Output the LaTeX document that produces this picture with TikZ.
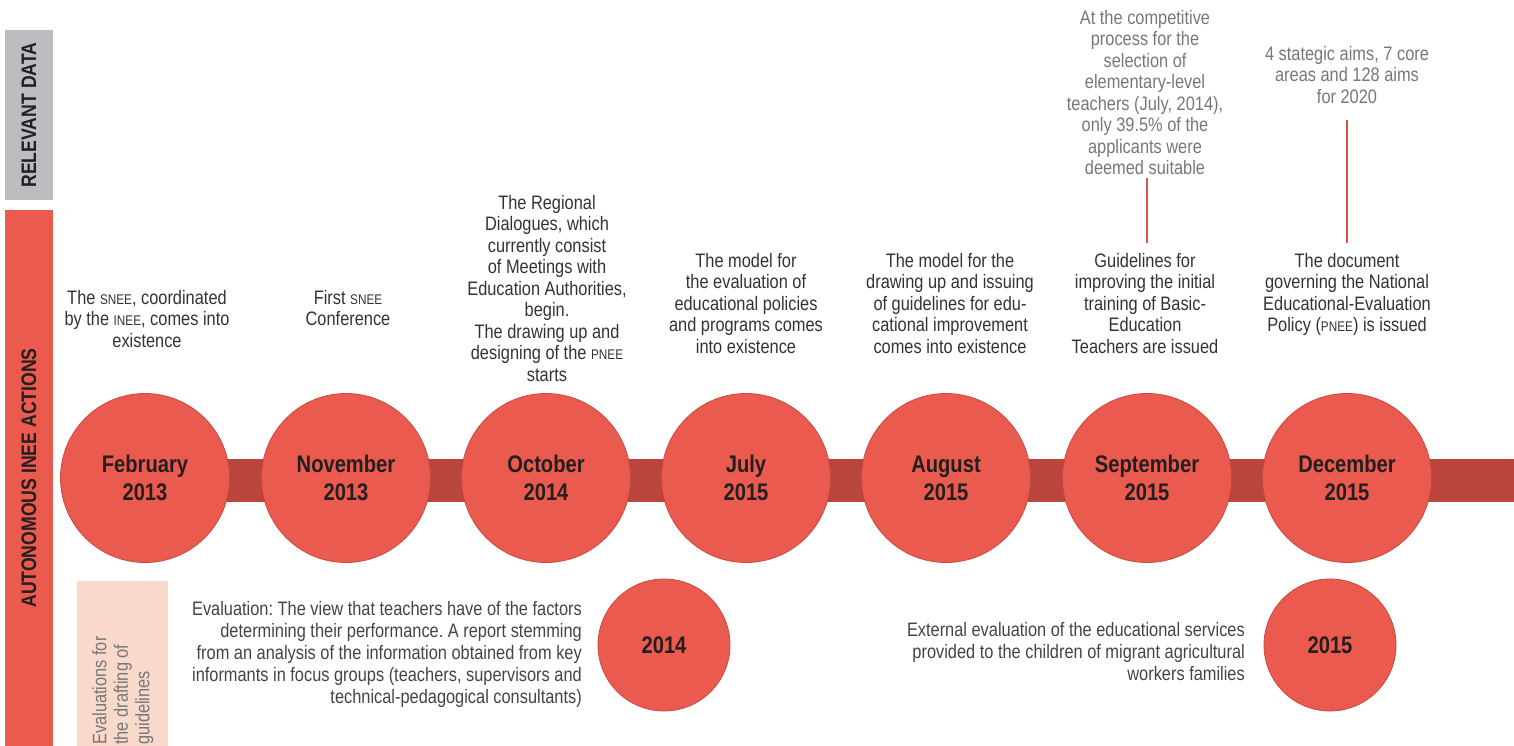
\documentclass[tikz,border=0pt]{standalone}
\usepackage{fontspec}
\setmainfont{Liberation Sans}[FakeStretch=0.84]
\usetikzlibrary{backgrounds}
\frenchspacing
\newcommand\smc[1]{{\fontsize{14}{21.5}\selectfont #1}}
\definecolor{circ}{HTML}{EB5A4E}
\definecolor{circedge}{HTML}{C9483F}
\definecolor{barc}{HTML}{B9453D}
\definecolor{greybar}{HTML}{BCBDC0}
\definecolor{pinkbox}{HTML}{F9D9CB}
\definecolor{txt}{HTML}{333333}
\definecolor{ltxt}{HTML}{777777}
\definecolor{mtxt}{HTML}{444444}
\definecolor{darktxt}{HTML}{231F20}
\definecolor{stem}{HTML}{D9544B}
\begin{document}
\begin{tikzpicture}[x=1pt,y=-1pt,
  desc/.style={align=center, anchor=north, inner sep=0pt, text=txt, font=\fontsize{19.5}{21.5}\selectfont},
  rdata/.style={desc, text=ltxt},
  evaltext/.style={align=right, anchor=north east, inner sep=0pt, text=mtxt, font=\fontsize{19.5}{22}\selectfont},
  bigcirc/.style={circle, minimum size=169pt, inner sep=0pt, fill=circ, draw=circedge, line width=0.8pt, text=darktxt, align=center, font=\bfseries\fontsize{24}{28}\selectfont},
  smallcirc/.style={bigcirc, minimum size=132pt},
  sidebar/.style={rotate=90, inner sep=0pt, text=darktxt, font=\bfseries\fontsize{21}{21}\selectfont},
  stemline/.style={draw=stem, line width=1.3pt}
]
\useasboundingbox (0,0) rectangle (1514,746);

% side bars
\node[sidebar, fill=greybar, minimum width=170pt, minimum height=48pt] (lab1) at (29,115) {RELEVANT DATA};
\node[sidebar, fill=circ, minimum width=536pt, minimum height=48pt] (lab2) at (29,478) {AUTONOMOUS INEE ACTIONS};
\fill[pinkbox] (77,581) rectangle (168,746);
\node[rotate=90, anchor=north west, align=left, inner sep=0pt, text=ltxt, font=\fontsize{19.5}{21.5}\selectfont] (lab3) at (92,745) {Evaluations for\\the drafting of\\guidelines};

% main circles
\node[bigcirc] (c1) at (145,478) {February\\2013};
\node[bigcirc] (c2) at (346,478) {November\\2013};
\node[bigcirc] (c3) at (546,478) {October\\2014};
\node[bigcirc] (c4) at (746,478) {July\\2015};
\node[bigcirc] (c5) at (946,478) {August\\2015};
\node[bigcirc] (c6) at (1147,478) {September\\2015};
\node[bigcirc] (c7) at (1347,478) {December\\2015};
\coordinate (barend) at (1514,480);
\begin{scope}[on background layer]
  \draw[barc, line width=43pt] (c1.center |- barend) -- (barend);
\end{scope}

% descriptions
\node[desc] (t1) at (147,290) {The \smc{SNEE}, coordinated\\by the \smc{INEE}, comes into\\existence};
\node[desc] (t2) at (348,290) {First \smc{SNEE}\\Conference};
\node[desc] (t3) at (547,195) {The Regional\\Dialogues, which\\currently consist\\of Meetings with\\Education Authorities,\\begin.\\The drawing up and\\designing of the \smc{PNEE}\\starts};
\node[desc] (t4) at (746,253) {The model for\\the evaluation of\\educational policies\\and programs comes\\into existence};
\node[desc] (t5) at (950,253) {The model for the\\drawing up and issuing\\of guidelines for edu-\\cational improvement\\comes into existence};
\node[desc] (t6) at (1145,253) {Guidelines for\\improving the initial\\training of Basic-\\Education\\Teachers are issued};
\node[desc] (t7) at (1347,253) {The document\\governing the National\\Educational-Evaluation\\Policy (\smc{PNEE}) is issued};

% relevant data
\node[rdata] (r6) at (1145,10) {At the competitive\\process for the\\selection of\\elementary-level\\teachers (July, 2014),\\only 39.5\% of the\\applicants were\\deemed suitable};
\node[rdata] (r7) at (1347,46) {4 stategic aims, 7 core\\areas and 128 aims\\for 2020};
\coordinate (s6a) at (1147,178);
\coordinate (s6b) at (1147,243);
\coordinate (s7a) at (1347,120);
\coordinate (s7b) at (1347,243);
\draw[stemline] (s6a) -- (s6b);
\draw[stemline] (s7a) -- (s7b);

% evaluations
\node[evaltext] (e1) at (582,601) {Evaluation: The view that teachers have of the factors\\determining their performance. A report stemming\\from an analysis of the information obtained from key\\informants in focus groups (teachers, supervisors and\\technical-pedagogical consultants)};
\node[smallcirc] (d1) at (664,645) {2014};
\node[evaltext] (e2) at (1245,622) {External evaluation of the educational services\\provided to the children of migrant agricultural\\workers families};
\node[smallcirc] (d2) at (1330,645) {2015};
\end{tikzpicture}
\end{document}
